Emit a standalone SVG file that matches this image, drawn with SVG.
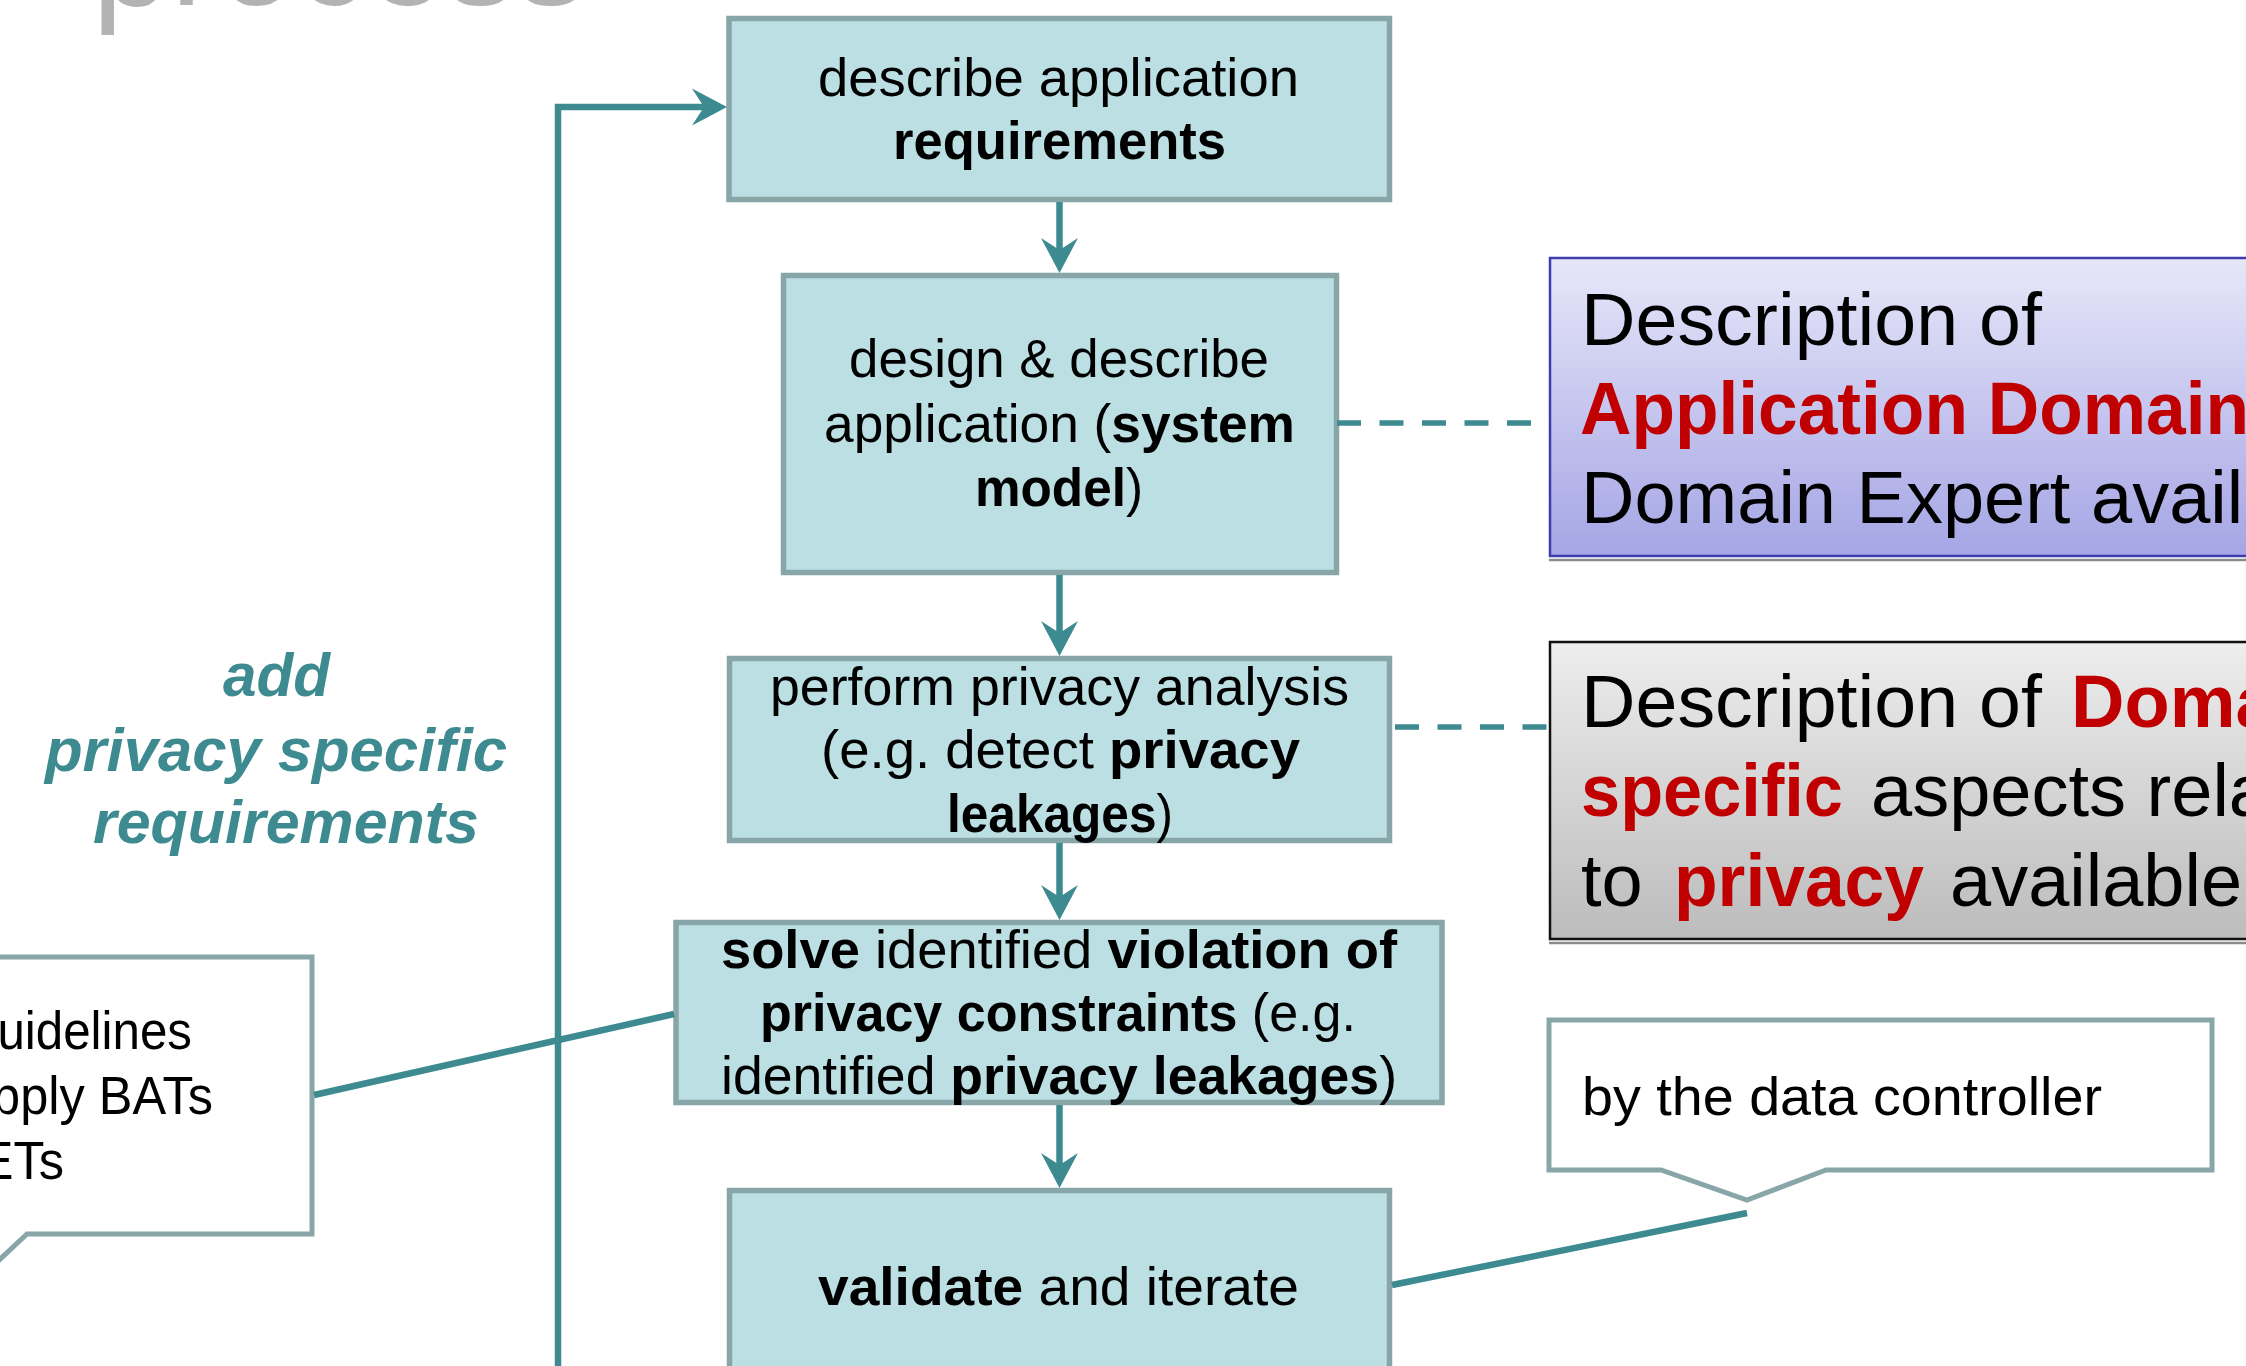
<svg xmlns="http://www.w3.org/2000/svg" width="2246" height="1366" viewBox="0 0 2246 1366">
<defs>
<style>
text{font-family:"Liberation Sans",Arial,sans-serif;fill:#000}
.bx{fill:#bbdfe2;stroke:#88a5a8;stroke-width:5.5}
.co{fill:#fff;stroke:#88a5a8;stroke-width:5}
.t{font-size:54px}
.b{font-weight:bold}
.r{fill:#c00000;font-weight:bold}
.big{font-size:74px}
.ln{fill:none;stroke:#3d8b90;stroke-width:6.5}
.dash{fill:none;stroke:#3d8b90;stroke-width:5.5;stroke-dasharray:24 18.5}
.it{font-size:62px;font-weight:bold;font-style:italic;fill:#3d8b90}
.sh{stroke:#8a8a8a;stroke-width:2.5}
</style>
<marker id="ah" viewBox="-37 -20 40 40" refX="-16" refY="0" markerWidth="40" markerHeight="40" markerUnits="userSpaceOnUse" orient="auto">
<path d="M0,0 L-35,-18.5 L-23,0 L-35,18.5 Z" fill="#3d8b90"/>
</marker>
<linearGradient id="gBlue" x1="0" y1="0" x2="0" y2="1">
<stop offset="0" stop-color="#e7e7f9"/>
<stop offset="1" stop-color="#a5a5e5"/>
</linearGradient>
<linearGradient id="gGrey" x1="0" y1="0" x2="0" y2="1">
<stop offset="0" stop-color="#ededed"/>
<stop offset="1" stop-color="#bcbcbc"/>
</linearGradient>
</defs>
<rect width="2246" height="1366" fill="#fff"/>

<g id="title">
<text x="92" y="4.5" textLength="495" lengthAdjust="spacingAndGlyphs" style="font-size:143px;fill:#b3b3b3">process</text>
</g>

<g id="loop-label">
<text class="it" x="223" y="696" textLength="107" lengthAdjust="spacingAndGlyphs">add</text>
<text class="it" x="45" y="771" textLength="462" lengthAdjust="spacingAndGlyphs">privacy specific</text>
<text class="it" x="93" y="843" textLength="386" lengthAdjust="spacingAndGlyphs">requirements</text>
</g>

<g id="box1">
<rect class="bx" x="729" y="18.5" width="660.5" height="181"/>
<text class="t" x="818" y="96" textLength="481" lengthAdjust="spacingAndGlyphs">describe application</text>
<text class="t b" x="893" y="159" textLength="333" lengthAdjust="spacingAndGlyphs">requirements</text>
</g>

<g id="box2">
<rect class="bx" x="783.5" y="275.5" width="553" height="297"/>
<text class="t" x="849" y="377" textLength="420" lengthAdjust="spacingAndGlyphs">design &amp; describe</text>
<text class="t" x="824" y="442" textLength="471" lengthAdjust="spacingAndGlyphs">application (<tspan class="b">system</tspan></text>
<text class="t" x="975" y="506" textLength="168" lengthAdjust="spacingAndGlyphs"><tspan class="b">model</tspan>)</text>
</g>

<g id="box3">
<rect class="bx" x="729.5" y="658.5" width="660" height="182"/>
<text class="t" x="770" y="705" textLength="579" lengthAdjust="spacingAndGlyphs">perform privacy analysis</text>
<text class="t" x="821" y="768" textLength="479" lengthAdjust="spacingAndGlyphs">(e.g. detect <tspan class="b">privacy</tspan></text>
<text class="t" x="947" y="832" textLength="226" lengthAdjust="spacingAndGlyphs"><tspan class="b">leakages</tspan>)</text>
</g>

<g id="box4">
<rect class="bx" x="676" y="922.5" width="766" height="180"/>
<text class="t" x="721" y="968" textLength="676" lengthAdjust="spacingAndGlyphs"><tspan class="b">solve</tspan> identified <tspan class="b">violation of</tspan></text>
<text class="t" x="760" y="1031" textLength="596" lengthAdjust="spacingAndGlyphs"><tspan class="b">privacy constraints</tspan> (e.g.</text>
<text class="t" x="721" y="1094" textLength="676" lengthAdjust="spacingAndGlyphs">identified <tspan class="b">privacy leakages</tspan>)</text>
</g>

<g id="box5">
<rect class="bx" x="729.5" y="1190.5" width="660" height="260"/>
<text class="t" x="818" y="1305" textLength="481" lengthAdjust="spacingAndGlyphs"><tspan class="b">validate</tspan> and iterate</text>
</g>

<g id="domain-box">
<line class="sh" x1="1549" y1="560" x2="2246" y2="560"/>
<rect x="1550" y="258" width="720" height="298" fill="url(#gBlue)" stroke="#3c3cae" stroke-width="2.5"/>
<text class="big" x="1581" y="345" textLength="461" lengthAdjust="spacingAndGlyphs">Description of</text>
<text class="big r" x="1580" y="434" textLength="669" lengthAdjust="spacingAndGlyphs">Application Domain</text>
<text class="big" x="1581" y="523">Domain Expert available</text>
</g>

<g id="privacy-box">
<line class="sh" x1="1549" y1="943" x2="2246" y2="943"/>
<rect x="1550" y="642" width="720" height="297" fill="url(#gGrey)" stroke="#111" stroke-width="2.5"/>
<text class="big" x="1581" y="727"><tspan textLength="461" lengthAdjust="spacingAndGlyphs">Description of</tspan> <tspan class="r" x="2071">Domain</tspan></text>
<text class="big" x="1581" y="816"><tspan class="r" textLength="262" lengthAdjust="spacingAndGlyphs">specific</tspan><tspan x="1871">aspects related</tspan></text>
<text class="big" x="1581" y="906">to <tspan class="r" x="1674" textLength="250" lengthAdjust="spacingAndGlyphs">privacy</tspan><tspan x="1950">available</tspan></text>
</g>

<g id="callout-controller">
<path class="co" d="M1549,1020 H2212 V1170 H1826 L1747,1200 L1661,1170 H1549 Z"/>
<text class="t" x="1582" y="1115" textLength="520" lengthAdjust="spacingAndGlyphs">by the data controller</text>
</g>

<g id="callout-guidelines">
<path class="co" d="M-20,957 H312 V1234 H27 L-20,1278 Z"/>
<text class="t" x="-30" y="1049" textLength="222" lengthAdjust="spacingAndGlyphs">guidelines</text>
<text class="t" x="-36" y="1114" textLength="249" lengthAdjust="spacingAndGlyphs">apply BATs</text>
<text class="t" x="-54" y="1179" textLength="118" lengthAdjust="spacingAndGlyphs">PETs</text>
</g>

<g id="connectors">
<path class="ln" d="M558,1370 V107 H711" marker-end="url(#ah)"/>
<line class="ln" x1="1059.5" y1="202" x2="1059.5" y2="257" marker-end="url(#ah)"/>
<line class="ln" x1="1059.5" y1="575" x2="1059.5" y2="640" marker-end="url(#ah)"/>
<line class="ln" x1="1059.5" y1="843" x2="1059.5" y2="904" marker-end="url(#ah)"/>
<line class="ln" x1="1059.5" y1="1105" x2="1059.5" y2="1172" marker-end="url(#ah)"/>
<line class="dash" x1="1337" y1="423" x2="1531" y2="423"/>
<line class="dash" x1="1395" y1="727" x2="1547" y2="727"/>
<line class="ln" x1="314" y1="1095" x2="674" y2="1014"/>
<line class="ln" x1="1392" y1="1285" x2="1747" y2="1213"/>
</g>
</svg>
